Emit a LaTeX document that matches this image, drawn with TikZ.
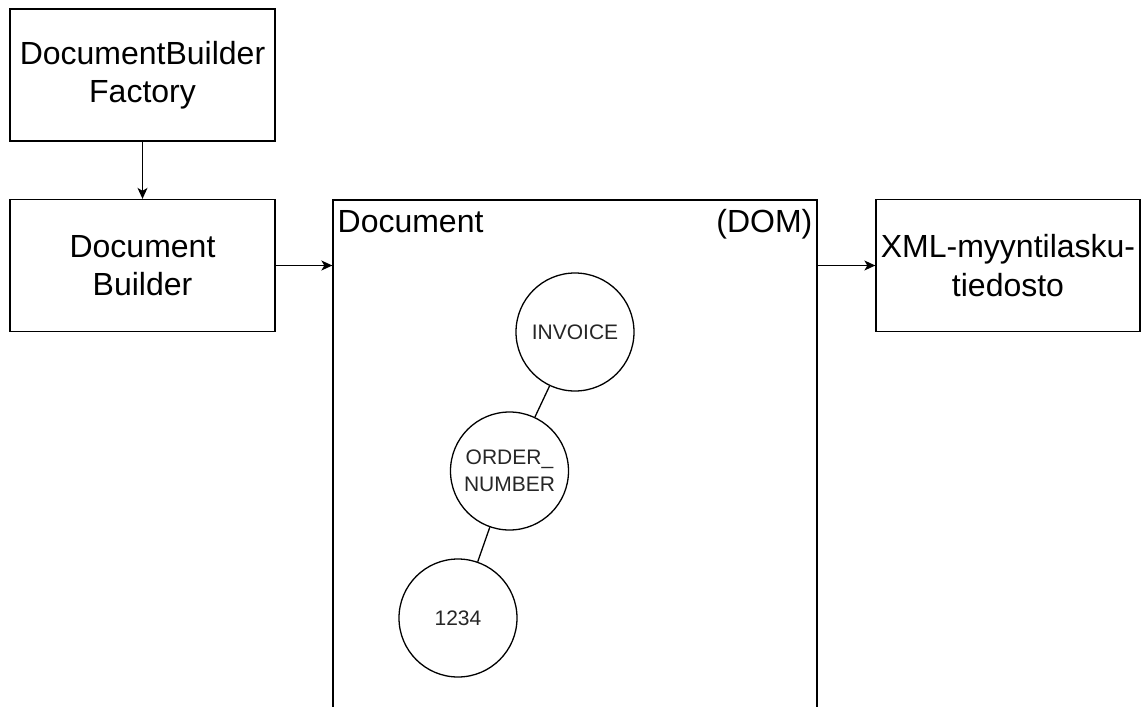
\documentclass[tikz,border=0pt]{standalone}
\usepackage{fontspec}
\setmainfont{Liberation Sans}
\usetikzlibrary{arrows.meta,calc}
\begin{document}
\begin{tikzpicture}[x=1pt,y=-1pt,line width=1.3pt,
  box/.style={draw, inner sep=0pt, align=center, font=\fontsize{32}{38.4}\selectfont},
  circ/.style={draw, circle, minimum size=118pt, inner sep=0pt, align=center, font=\fontsize{21}{27}\selectfont, text=black!85},
  lbl/.style={inner sep=0pt, font=\fontsize{32}{38.4}\selectfont},
  arr/.style={-{Stealth[length=11pt,width=10pt,inset=3pt]}}]
\clip (0,0) rectangle (1144,707);
\useasboundingbox (0,0) rectangle (1144,707);
\node[box, minimum width=265pt, minimum height=132pt] (fac) at (142.5,75) {DocumentBuilder\\Factory};
\node[box, minimum width=265pt, minimum height=132pt] (db) at (142.5,265.5) {Document\\Builder};
\node[box, minimum width=264pt, minimum height=132pt] (xml) at (1008,265.5) {XML-myyntilasku-\\tiedosto};
\node[draw, minimum width=484pt, minimum height=520pt, inner sep=0pt] (doc) at (575,460) {};
\node[lbl, anchor=base west] (doclbl) at (337,232) {Document};
\node[lbl, anchor=base east] (domlbl) at (813,232) {(DOM)};
\node[circ] (inv) at (575,332) {INVOICE};
\node[circ] (ord) at (509.5,471) {ORDER\_\\NUMBER};
\node[circ] (num) at (458,618) {1234};
\draw (inv) -- (ord);
\draw (ord) -- (num);
\draw[arr] (fac) -- (db);
\draw[arr] (db.east) -- (db.east -| doc.west);
\draw[arr] (doc.east |- xml.west) -- (xml.west);
\end{tikzpicture}
\end{document}
